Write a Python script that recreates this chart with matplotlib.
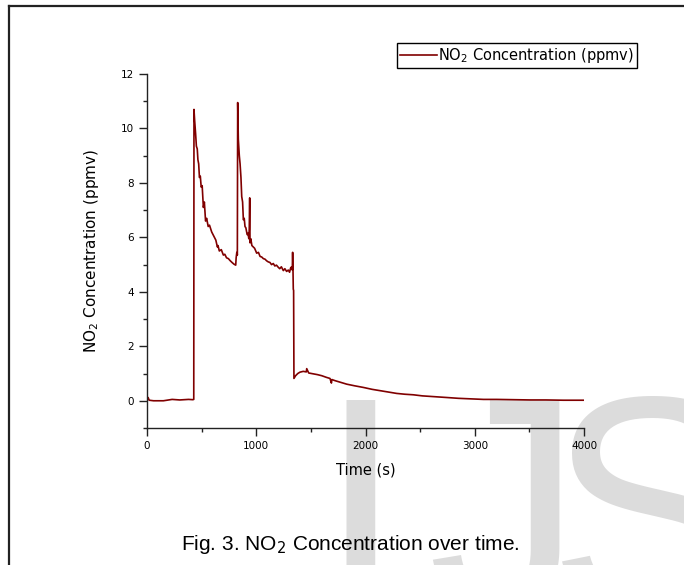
import matplotlib
matplotlib.use('Agg')
from matplotlib import pyplot as plt
from matplotlib.lines import Line2D
import numpy as np

# NO2 concentration readings (time in s, concentration in ppmv)
time_s = [0, 10, 20, 60, 150, 230, 300, 380, 420, 428,
          430, 436, 445, 452, 460, 466, 473, 480, 488, 496, 505, 516, 525, 536, 546,
          560, 572, 592, 605, 618, 630, 644, 650, 662, 680, 699, 712, 728, 745, 760, 778, 795, 812,
          816, 822, 827,
          830, 836, 845, 852, 860, 867, 875, 882, 890, 897, 905, 912, 918, 925, 932,
          936, 940, 943, 950, 960, 973, 985, 1004, 1020, 1035, 1050, 1065, 1080, 1095,
          1110, 1125, 1140, 1156, 1170, 1185, 1202, 1215, 1230, 1248, 1262, 1278, 1293,
          1305, 1315, 1324, 1330, 1333, 1336, 1339, 1342, 1345,
          1360, 1380, 1400, 1430, 1458, 1462, 1480, 1520, 1560, 1600, 1642, 1675, 1688, 1692,
          1720, 1770, 1828, 1900, 1980, 2060, 2133, 2200, 2285, 2360, 2437, 2520, 2590,
          2670, 2743, 2850, 2957, 3080, 3201, 3350, 3506, 3650, 3811, 3900, 3994]
conc_ppmv = [0.0, 0.12, 0.02, 0.0, 0.0, 0.05, 0.03, 0.05, 0.04, 0.05,
             10.7, 10.3, 9.8, 9.35, 9.25, 8.85, 8.7, 8.2, 8.25, 7.85, 7.9, 7.1, 7.3, 6.6, 6.7,
             6.4, 6.45, 6.2, 6.1, 6.0, 5.9, 5.65, 5.7, 5.5, 5.55, 5.35, 5.38, 5.25, 5.22, 5.15, 5.08, 5.02, 4.98,
             5.25, 5.45, 5.35,
             10.95, 9.6, 9.0, 8.7, 8.2, 7.5, 7.3, 6.65, 6.7, 6.4, 6.35, 6.2, 6.1, 6.15, 5.95,
             6.3, 7.45, 5.8, 5.95, 5.7, 5.65, 5.6, 5.42, 5.45, 5.3, 5.28, 5.22, 5.2, 5.14,
             5.1, 5.08, 5.0, 5.04, 4.95, 4.98, 4.9, 4.85, 4.92, 4.78, 4.85, 4.75, 4.8,
             4.72, 4.88, 4.92, 4.8, 5.45, 4.9, 4.1, 4.05, 0.82,
             0.92, 1.0, 1.05, 1.08, 1.06, 1.18, 1.02, 0.99, 0.96, 0.92, 0.86, 0.82, 0.65, 0.78,
             0.74, 0.68, 0.61, 0.55, 0.49, 0.42, 0.37, 0.32, 0.27, 0.24, 0.22, 0.18, 0.16,
             0.14, 0.12, 0.09, 0.07, 0.05, 0.05, 0.04, 0.03, 0.03, 0.02, 0.02, 0.02]

fig = plt.figure(figsize=(6.84, 5.65), dpi=100)
plt.rcParams['font.family'] = ['DejaVu Sans']
caption_font = ['Liberation Sans', 'DejaVu Sans']

# watermark letters behind everything
wm_color = '#dcdcdc'
for ch, xp in [('I', 318), ('J', 427), ('S', 548)]:
    fig.text(xp / 100, (565 - 612) / 100, ch, transform=fig.dpi_scale_trans,
             fontsize=222, color=wm_color, ha='left', va='baseline', zorder=-5,
             family=caption_font)

# page frame (left and top edges)
fig.add_artist(Line2D([9 / 684, 9 / 684], [0, 1 - 6 / 565], color='#222222', lw=1.6))
fig.add_artist(Line2D([9 / 684, 1], [1 - 6 / 565, 1 - 6 / 565], color='#222222', lw=1.6))

ax = fig.add_axes([147 / 684, 137 / 565, 437 / 684, 354 / 565])
ax.patch.set_alpha(0)
ax.plot(time_s, conc_ppmv, color='#800000', lw=1.2, label='NO$_2$ Concentration (ppmv)')

ax.set_xlim(0, 4000)
ax.set_ylim(-1, 12)
ax.set_xticks(np.arange(0, 4001, 1000))
ax.set_xticks(np.arange(500, 4000, 1000), minor=True)
ax.set_yticks(np.arange(0, 13, 2))
ax.set_yticks(np.arange(-1, 12, 2), minor=True)

for s in ['top', 'right']:
    ax.spines[s].set_visible(False)
for s in ['left', 'bottom']:
    ax.spines[s].set_color('#222222')
    ax.spines[s].set_linewidth(1.0)

ax.tick_params(which='major', direction='out', length=6, width=1, labelsize=7.5, color='#222222')
ax.tick_params(which='minor', direction='out', length=3, width=1, color='#222222')

ax.set_xlabel('Time (s)', fontsize=10.5, labelpad=8)
ax.set_ylabel('NO$_2$ Concentration (ppmv)', fontsize=11, labelpad=14)

fig.legend(loc='upper right', bbox_to_anchor=(637 / 684, 1 - 43 / 565),
           fancybox=False, edgecolor='black', framealpha=1, fontsize=10.5,
           handlelength=2.6, handletextpad=0.05, borderpad=0.2, borderaxespad=0)

fig.text(350 / 684, 1 - 550 / 565, 'Fig. 3. NO$_2$ Concentration over time.',
         ha='center', va='baseline', fontsize=15, zorder=3, family=caption_font)

fig.savefig('out.png', dpi=100)
